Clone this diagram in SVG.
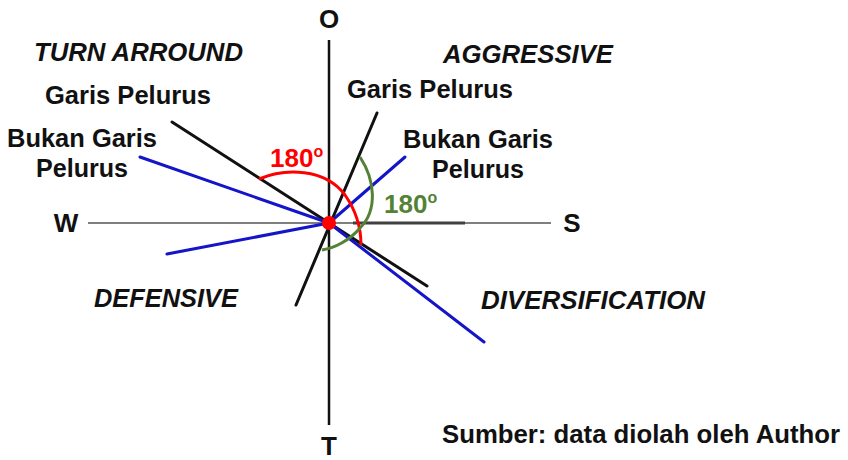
<svg xmlns="http://www.w3.org/2000/svg" width="848" height="460" viewBox="0 0 848 460">
<style>
text{font-family:"Liberation Sans",Arial,sans-serif;font-weight:bold;font-size:26px;fill:#111}
.it{font-style:italic}
.blk{stroke:#111;stroke-width:3;fill:none;stroke-linecap:round}
.blu{stroke:#1414c8;stroke-width:3;fill:none;stroke-linecap:round}
.red{stroke:#ff0000;stroke-width:3;fill:none}
.grn{stroke:#548235;stroke-width:3;fill:none}
</style>
<rect width="848" height="460" fill="#fff"/>
<g id="axes">
<line x1="88" y1="223" x2="551" y2="223" stroke="#7f7f7f" stroke-width="2"/>
<line x1="353" y1="223" x2="465" y2="223" stroke="#404040" stroke-width="3"/>
<line x1="329" y1="40" x2="329" y2="425" stroke="#111" stroke-width="2.5"/>
</g>
<g id="connectors">
<line class="blk" x1="172" y1="122" x2="427" y2="286"/>
<line class="blk" x1="296" y1="305" x2="377" y2="113"/>
<line class="blu" x1="140" y1="157" x2="329" y2="223"/>
<line class="blu" x1="167" y1="254" x2="329" y2="223"/>
<line class="blu" x1="329" y1="223" x2="405" y2="157"/>
<line class="blu" x1="329" y1="223" x2="484" y2="342"/>
<path class="red" d="M259,179 C285,168 325,168 345,195 C357,212 361,228 361,245"/>
<path class="grn" d="M360,157 C375,180 378,210 360,228 C350,240 335,248 322,250"/>
<circle cx="329" cy="223" r="7" fill="#ff0000"/>
</g>
<g id="labels">
<text x="329" y="28" text-anchor="middle">O</text>
<text x="329" y="455" text-anchor="middle">T</text>
<text x="66" y="232" text-anchor="middle">W</text>
<text x="572" y="232" text-anchor="middle">S</text>
<text class="it" x="34" y="61" textLength="209" lengthAdjust="spacingAndGlyphs">TURN ARROUND</text>
<text class="it" x="443" y="63" textLength="170" lengthAdjust="spacingAndGlyphs">AGGRESSIVE</text>
<text class="it" x="94" y="307" textLength="144" lengthAdjust="spacingAndGlyphs">DEFENSIVE</text>
<text class="it" x="481" y="309" textLength="224" lengthAdjust="spacingAndGlyphs">DIVERSIFICATION</text>
<text x="45" y="104" textLength="166" lengthAdjust="spacingAndGlyphs">Garis Pelurus</text>
<text x="7" y="147" textLength="150" lengthAdjust="spacingAndGlyphs">Bukan Garis</text>
<text x="36" y="177" textLength="92" lengthAdjust="spacingAndGlyphs">Pelurus</text>
<text x="347" y="98" textLength="166" lengthAdjust="spacingAndGlyphs">Garis Pelurus</text>
<text x="403" y="148" textLength="150" lengthAdjust="spacingAndGlyphs">Bukan Garis</text>
<text x="432" y="178" textLength="92" lengthAdjust="spacingAndGlyphs">Pelurus</text>
<text x="270" y="167" style="fill:#ff0000">180<tspan font-size="16" dy="-10">o</tspan></text>
<text x="384" y="213" style="fill:#548235">180<tspan font-size="16" dy="-10">o</tspan></text>
<text x="442" y="443" textLength="398" lengthAdjust="spacingAndGlyphs">Sumber: data diolah oleh Author</text>
</g>
</svg>
